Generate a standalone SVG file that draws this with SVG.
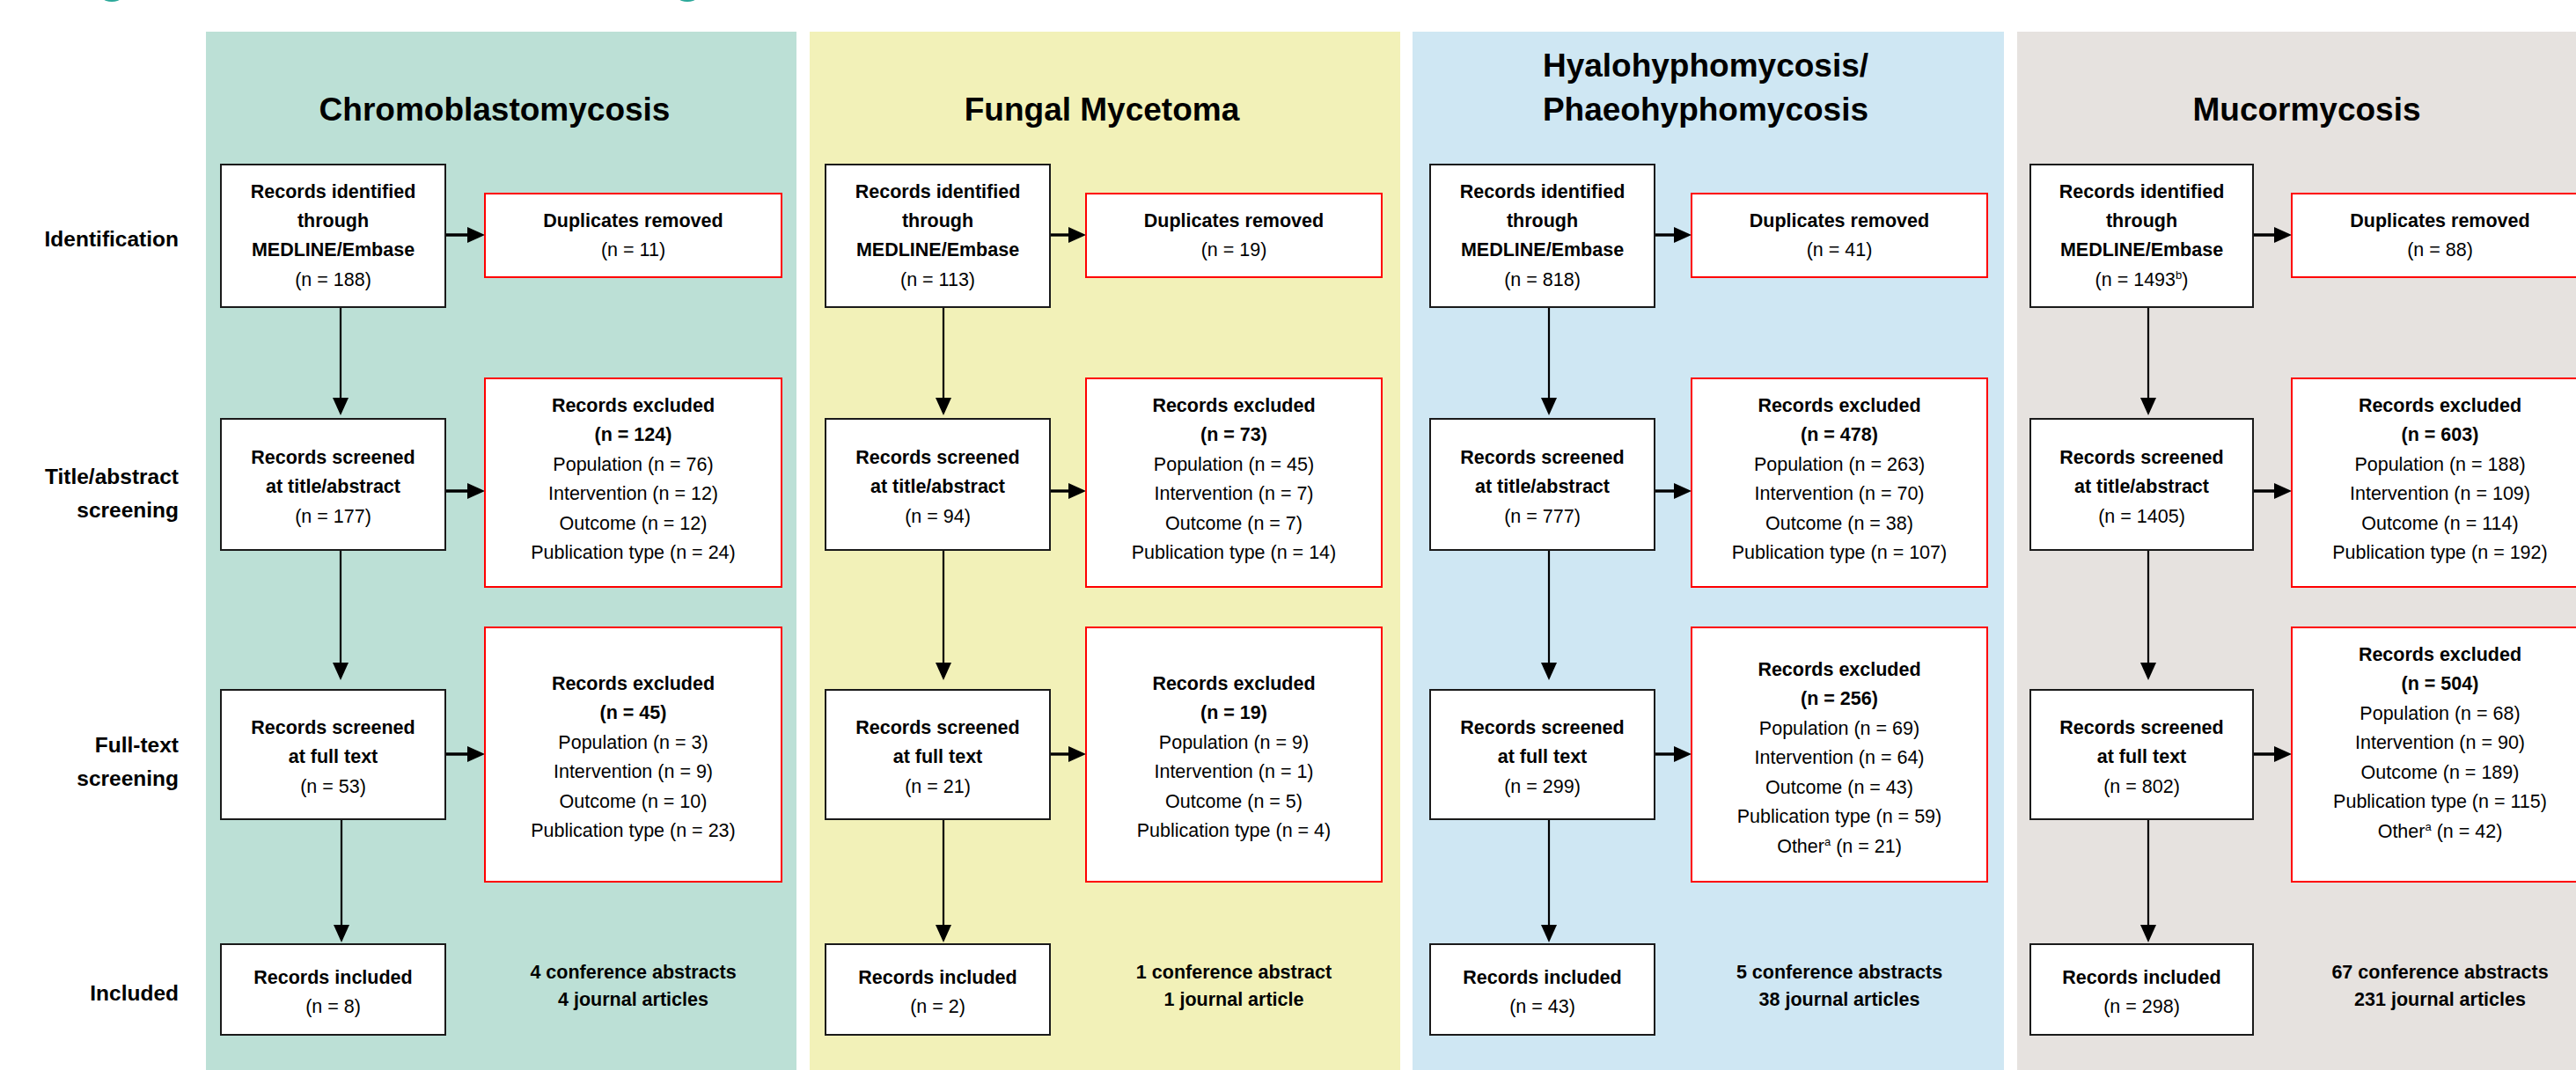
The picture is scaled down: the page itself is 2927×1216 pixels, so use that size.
<svg xmlns="http://www.w3.org/2000/svg" width="2927" height="1216" viewBox="0 0 2927 1216">
<defs>
<style>
text{font-family:"Liberation Sans",Arial,sans-serif;fill:#000}
.t{font-size:21.5px;text-anchor:middle}
.b{font-weight:bold}
.title{font-size:37px;font-weight:bold;text-anchor:middle}
.row{font-size:24.5px;font-weight:bold;text-anchor:end}
.box{fill:#fff;stroke:#1a1a1a;stroke-width:2}
.excl{fill:#fff;stroke:#ff0000;stroke-width:2}
.v{stroke:#000;stroke-width:2.2;fill:none;marker-end:url(#ah)}
.h{stroke:#000;stroke-width:3.4;fill:none;marker-end:url(#ah)}
.sup{font-size:13px}
</style>
<marker id="ah" markerUnits="userSpaceOnUse" markerWidth="20" markerHeight="18" refX="10" refY="9" orient="auto">
<path d="M0,0 L20,9 L0,18 z" fill="#000"/>
</marker>
</defs>
<rect width="2927" height="1216" fill="#fff"/>
<ellipse cx="127" cy="-1" rx="9" ry="3" fill="#2ba89a"/>
<ellipse cx="781" cy="-1" rx="9" ry="3" fill="#2ba89a"/>

<g id="panels">
<rect x="234" y="36" width="671" height="1180" fill="#bce0d6"/>
<rect x="920" y="36" width="671" height="1180" fill="#f2f1b8"/>
<rect x="1605" y="36" width="672" height="1180" fill="#cfe7f3"/>
<rect x="2292" y="36" width="640" height="1180" fill="#e6e2df"/>
</g>

<g id="row-labels">
<text class="row" x="203" y="280">Identification</text>
<text class="row" x="203" y="550">Title/abstract</text>
<text class="row" x="203" y="588">screening</text>
<text class="row" x="203" y="855">Full-text</text>
<text class="row" x="203" y="893">screening</text>
<text class="row" x="203" y="1137">Included</text>
</g>

<g id="titles">
<text class="title" x="562" y="137">Chromoblastomycosis</text>
<text class="title" x="1252" y="137">Fungal Mycetoma</text>
<text class="title" x="1938" y="87">Hyalohyphomycosis/</text>
<text class="title" x="1938" y="137">Phaeohyphomycosis</text>
<text class="title" x="2621" y="137">Mucormycosis</text>
</g>

<g id="connectors">
<line class="v" x1="387" y1="349" x2="387" y2="462"/>
<line class="v" x1="387" y1="625" x2="387" y2="763"/>
<line class="v" x1="388" y1="931" x2="388" y2="1061"/>
<line class="h" x1="506" y1="267" x2="541" y2="267"/>
<line class="h" x1="506" y1="558" x2="541" y2="558"/>
<line class="h" x1="506" y1="857" x2="541" y2="857"/>

<line class="v" x1="1072" y1="349" x2="1072" y2="462"/>
<line class="v" x1="1072" y1="625" x2="1072" y2="763"/>
<line class="v" x1="1072" y1="931" x2="1072" y2="1061"/>
<line class="h" x1="1193" y1="267" x2="1224" y2="267"/>
<line class="h" x1="1193" y1="558" x2="1224" y2="558"/>
<line class="h" x1="1193" y1="857" x2="1224" y2="857"/>

<line class="v" x1="1760" y1="349" x2="1760" y2="462"/>
<line class="v" x1="1760" y1="625" x2="1760" y2="763"/>
<line class="v" x1="1760" y1="931" x2="1760" y2="1061"/>
<line class="h" x1="1880" y1="267" x2="1912" y2="267"/>
<line class="h" x1="1880" y1="558" x2="1912" y2="558"/>
<line class="h" x1="1880" y1="857" x2="1912" y2="857"/>

<line class="v" x1="2441" y1="349" x2="2441" y2="462"/>
<line class="v" x1="2441" y1="625" x2="2441" y2="763"/>
<line class="v" x1="2441" y1="931" x2="2441" y2="1061"/>
<line class="h" x1="2560" y1="267" x2="2594" y2="267"/>
<line class="h" x1="2560" y1="558" x2="2594" y2="558"/>
<line class="h" x1="2560" y1="857" x2="2594" y2="857"/>
</g>

<!-- Panel 1 -->
<g id="p1-identified">
<rect class="box" x="251" y="187" width="255" height="162"/>
<text class="t b" x="378.5" y="224.5">Records identified</text>
<text class="t b" x="378.5" y="258">through</text>
<text class="t b" x="378.5" y="291">MEDLINE/Embase</text>
<text class="t" x="378.5" y="324.5">(n = 188)</text>
</g>
<g id="p1-duplicates">
<rect class="excl" x="551" y="220" width="337" height="95"/>
<text class="t b" x="719.5" y="258">Duplicates removed</text>
<text class="t" x="719.5" y="291">(n = 11)</text>
</g>
<g id="p1-screened-ta">
<rect class="box" x="251" y="476" width="255" height="149"/>
<text class="t b" x="378.5" y="526.5">Records screened</text>
<text class="t b" x="378.5" y="560">at title/abstract</text>
<text class="t" x="378.5" y="593.5">(n = 177)</text>
</g>
<g id="p1-excluded-ta">
<rect class="excl" x="551" y="430" width="337" height="237"/>
<text class="t b" x="719.5" y="467.5">Records excluded</text>
<text class="t b" x="719.5" y="501">(n = 124)</text>
<text class="t" x="719.5" y="534.5">Population (n = 76)</text>
<text class="t" x="719.5" y="568">Intervention (n = 12)</text>
<text class="t" x="719.5" y="601.5">Outcome (n = 12)</text>
<text class="t" x="719.5" y="635">Publication type (n = 24)</text>
</g>
<g id="p1-screened-ft">
<rect class="box" x="251" y="784" width="255" height="147"/>
<text class="t b" x="378.5" y="833.5">Records screened</text>
<text class="t b" x="378.5" y="867">at full text</text>
<text class="t" x="378.5" y="900.5">(n = 53)</text>
</g>
<g id="p1-excluded-ft">
<rect class="excl" x="551" y="713" width="337" height="289"/>
<text class="t b" x="719.5" y="783.5">Records excluded</text>
<text class="t b" x="719.5" y="817">(n = 45)</text>
<text class="t" x="719.5" y="850.5">Population (n = 3)</text>
<text class="t" x="719.5" y="884">Intervention (n = 9)</text>
<text class="t" x="719.5" y="917.5">Outcome (n = 10)</text>
<text class="t" x="719.5" y="951">Publication type (n = 23)</text>
</g>
<g id="p1-included">
<rect class="box" x="251" y="1073" width="255" height="103"/>
<text class="t b" x="378.5" y="1117.5">Records included</text>
<text class="t" x="378.5" y="1151">(n = 8)</text>
</g>
<g id="p1-included-detail">
<text class="t b" x="719.5" y="1112">4 conference abstracts</text>
<text class="t b" x="719.5" y="1143">4 journal articles</text>
</g>

<!-- Panel 2 -->
<g id="p2-identified">
<rect class="box" x="938" y="187" width="255" height="162"/>
<text class="t b" x="1065.5" y="224.5">Records identified</text>
<text class="t b" x="1065.5" y="258">through</text>
<text class="t b" x="1065.5" y="291">MEDLINE/Embase</text>
<text class="t" x="1065.5" y="324.5">(n = 113)</text>
</g>
<g id="p2-duplicates">
<rect class="excl" x="1234" y="220" width="336" height="95"/>
<text class="t b" x="1402" y="258">Duplicates removed</text>
<text class="t" x="1402" y="291">(n = 19)</text>
</g>
<g id="p2-screened-ta">
<rect class="box" x="938" y="476" width="255" height="149"/>
<text class="t b" x="1065.5" y="526.5">Records screened</text>
<text class="t b" x="1065.5" y="560">at title/abstract</text>
<text class="t" x="1065.5" y="593.5">(n = 94)</text>
</g>
<g id="p2-excluded-ta">
<rect class="excl" x="1234" y="430" width="336" height="237"/>
<text class="t b" x="1402" y="467.5">Records excluded</text>
<text class="t b" x="1402" y="501">(n = 73)</text>
<text class="t" x="1402" y="534.5">Population (n = 45)</text>
<text class="t" x="1402" y="568">Intervention (n = 7)</text>
<text class="t" x="1402" y="601.5">Outcome (n = 7)</text>
<text class="t" x="1402" y="635">Publication type (n = 14)</text>
</g>
<g id="p2-screened-ft">
<rect class="box" x="938" y="784" width="255" height="147"/>
<text class="t b" x="1065.5" y="833.5">Records screened</text>
<text class="t b" x="1065.5" y="867">at full text</text>
<text class="t" x="1065.5" y="900.5">(n = 21)</text>
</g>
<g id="p2-excluded-ft">
<rect class="excl" x="1234" y="713" width="336" height="289"/>
<text class="t b" x="1402" y="783.5">Records excluded</text>
<text class="t b" x="1402" y="817">(n = 19)</text>
<text class="t" x="1402" y="850.5">Population (n = 9)</text>
<text class="t" x="1402" y="884">Intervention (n = 1)</text>
<text class="t" x="1402" y="917.5">Outcome (n = 5)</text>
<text class="t" x="1402" y="951">Publication type (n = 4)</text>
</g>
<g id="p2-included">
<rect class="box" x="938" y="1073" width="255" height="103"/>
<text class="t b" x="1065.5" y="1117.5">Records included</text>
<text class="t" x="1065.5" y="1151">(n = 2)</text>
</g>
<g id="p2-included-detail">
<text class="t b" x="1402" y="1112">1 conference abstract</text>
<text class="t b" x="1402" y="1143">1 journal article</text>
</g>

<!-- Panel 3 -->
<g id="p3-identified">
<rect class="box" x="1625" y="187" width="255" height="162"/>
<text class="t b" x="1752.5" y="224.5">Records identified</text>
<text class="t b" x="1752.5" y="258">through</text>
<text class="t b" x="1752.5" y="291">MEDLINE/Embase</text>
<text class="t" x="1752.5" y="324.5">(n = 818)</text>
</g>
<g id="p3-duplicates">
<rect class="excl" x="1922" y="220" width="336" height="95"/>
<text class="t b" x="2090" y="258">Duplicates removed</text>
<text class="t" x="2090" y="291">(n = 41)</text>
</g>
<g id="p3-screened-ta">
<rect class="box" x="1625" y="476" width="255" height="149"/>
<text class="t b" x="1752.5" y="526.5">Records screened</text>
<text class="t b" x="1752.5" y="560">at title/abstract</text>
<text class="t" x="1752.5" y="593.5">(n = 777)</text>
</g>
<g id="p3-excluded-ta">
<rect class="excl" x="1922" y="430" width="336" height="237"/>
<text class="t b" x="2090" y="467.5">Records excluded</text>
<text class="t b" x="2090" y="501">(n = 478)</text>
<text class="t" x="2090" y="534.5">Population (n = 263)</text>
<text class="t" x="2090" y="568">Intervention (n = 70)</text>
<text class="t" x="2090" y="601.5">Outcome (n = 38)</text>
<text class="t" x="2090" y="635">Publication type (n = 107)</text>
</g>
<g id="p3-screened-ft">
<rect class="box" x="1625" y="784" width="255" height="147"/>
<text class="t b" x="1752.5" y="833.5">Records screened</text>
<text class="t b" x="1752.5" y="867">at full text</text>
<text class="t" x="1752.5" y="900.5">(n = 299)</text>
</g>
<g id="p3-excluded-ft">
<rect class="excl" x="1922" y="713" width="336" height="289"/>
<text class="t b" x="2090" y="767.5">Records excluded</text>
<text class="t b" x="2090" y="801">(n = 256)</text>
<text class="t" x="2090" y="834.5">Population (n = 69)</text>
<text class="t" x="2090" y="868">Intervention (n = 64)</text>
<text class="t" x="2090" y="901.5">Outcome (n = 43)</text>
<text class="t" x="2090" y="935">Publication type (n = 59)</text>
<text class="t" x="2090" y="968.5">Other<tspan class="sup" dy="-8">a</tspan><tspan dy="8"> (n = 21)</tspan></text>
</g>
<g id="p3-included">
<rect class="box" x="1625" y="1073" width="255" height="103"/>
<text class="t b" x="1752.5" y="1117.5">Records included</text>
<text class="t" x="1752.5" y="1151">(n = 43)</text>
</g>
<g id="p3-included-detail">
<text class="t b" x="2090" y="1112">5 conference abstracts</text>
<text class="t b" x="2090" y="1143">38 journal articles</text>
</g>

<!-- Panel 4 -->
<g id="p4-identified">
<rect class="box" x="2307" y="187" width="253" height="162"/>
<text class="t b" x="2433.5" y="224.5">Records identified</text>
<text class="t b" x="2433.5" y="258">through</text>
<text class="t b" x="2433.5" y="291">MEDLINE/Embase</text>
<text class="t" x="2433.5" y="324.5">(n = 1493<tspan class="sup" dy="-8">b</tspan><tspan dy="8">)</tspan></text>
</g>
<g id="p4-duplicates">
<rect class="excl" x="2604" y="220" width="337" height="95"/>
<text class="t b" x="2772.5" y="258">Duplicates removed</text>
<text class="t" x="2772.5" y="291">(n = 88)</text>
</g>
<g id="p4-screened-ta">
<rect class="box" x="2307" y="476" width="253" height="149"/>
<text class="t b" x="2433.5" y="526.5">Records screened</text>
<text class="t b" x="2433.5" y="560">at title/abstract</text>
<text class="t" x="2433.5" y="593.5">(n = 1405)</text>
</g>
<g id="p4-excluded-ta">
<rect class="excl" x="2604" y="430" width="337" height="237"/>
<text class="t b" x="2772.5" y="467.5">Records excluded</text>
<text class="t b" x="2772.5" y="501">(n = 603)</text>
<text class="t" x="2772.5" y="534.5">Population (n = 188)</text>
<text class="t" x="2772.5" y="568">Intervention (n = 109)</text>
<text class="t" x="2772.5" y="601.5">Outcome (n = 114)</text>
<text class="t" x="2772.5" y="635">Publication type (n = 192)</text>
</g>
<g id="p4-screened-ft">
<rect class="box" x="2307" y="784" width="253" height="147"/>
<text class="t b" x="2433.5" y="833.5">Records screened</text>
<text class="t b" x="2433.5" y="867">at full text</text>
<text class="t" x="2433.5" y="900.5">(n = 802)</text>
</g>
<g id="p4-excluded-ft">
<rect class="excl" x="2604" y="713" width="337" height="289"/>
<text class="t b" x="2772.5" y="750.5">Records excluded</text>
<text class="t b" x="2772.5" y="784">(n = 504)</text>
<text class="t" x="2772.5" y="817.5">Population (n = 68)</text>
<text class="t" x="2772.5" y="851">Intervention (n = 90)</text>
<text class="t" x="2772.5" y="884.5">Outcome (n = 189)</text>
<text class="t" x="2772.5" y="918">Publication type (n = 115)</text>
<text class="t" x="2772.5" y="951.5">Other<tspan class="sup" dy="-8">a</tspan><tspan dy="8"> (n = 42)</tspan></text>
</g>
<g id="p4-included">
<rect class="box" x="2307" y="1073" width="253" height="103"/>
<text class="t b" x="2433.5" y="1117.5">Records included</text>
<text class="t" x="2433.5" y="1151">(n = 298)</text>
</g>
<g id="p4-included-detail">
<text class="t b" x="2772.5" y="1112">67 conference abstracts</text>
<text class="t b" x="2772.5" y="1143">231 journal articles</text>
</g>
</svg>
